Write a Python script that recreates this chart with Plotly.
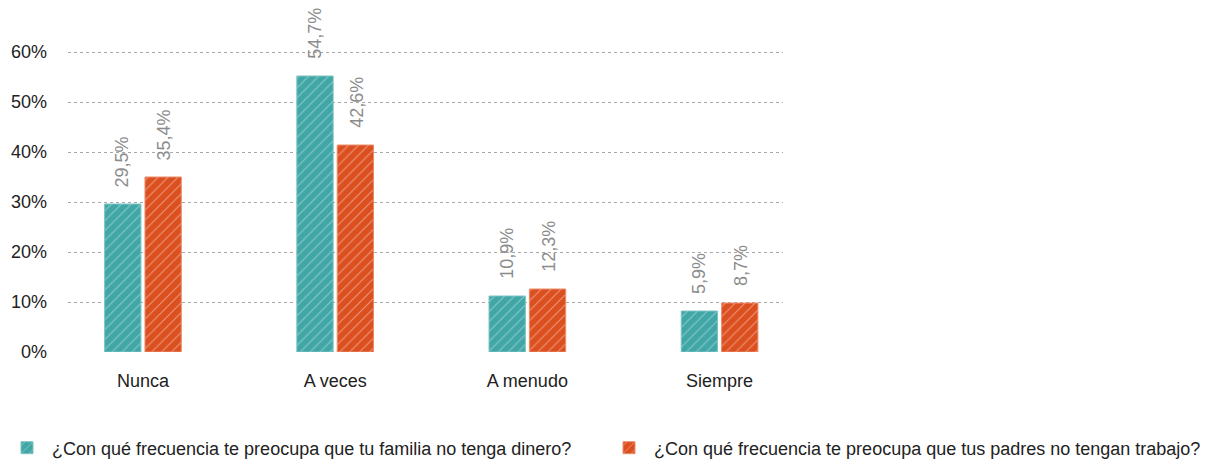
import plotly.graph_objects as go

categories = ["Nunca", "A veces", "A menudo", "Siempre"]

# bar heights as drawn, and the labels printed above them
dinero_height = [29.6, 55.2, 11.2, 8.2]
trabajo_height = [35.0, 41.4, 12.6, 9.8]
dinero_label = ["29,5%", "54,7%", "10,9%", "5,9%"]
trabajo_label = ["35,4%", "42,6%", "12,3%", "8,7%"]

series_names = [
    "¿Con qué frecuencia te preocupa que tu familia no tenga dinero?",
    "¿Con qué frecuencia te preocupa que tus padres no tengan trabajo?",
]
y_ticks = [0, 10, 20, 30, 40, 50, 60]
y_tick_text = ["0%", "10%", "20%", "30%", "40%", "50%", "60%"]

TEAL = "#40a6a6"
ORANGE = "#dc5020"
FONT = "Liberation Sans, Arial, sans-serif"
W, H = 1209, 463

fig = go.Figure()
for name, vals, col, edge, leg in [
    (series_names[0], dinero_height, TEAL, "#7cc4c4", "legend"),
    (series_names[1], trabajo_height, ORANGE, "#eb8d6c", "legend2"),
]:
    fig.add_trace(go.Bar(
        x=categories, y=vals, name=name, legend=leg, showlegend=True,
        marker=dict(color=col, line=dict(color=edge, width=1),
                    pattern=dict(shape="/", fgcolor="white", fgopacity=0.4,
                                 size=7, solidity=0.15)),
    ))

# rotated value labels above each bar
annos = []
for labels, heights, shift in [(dinero_label, dinero_height, -21),
                               (trabajo_label, trabajo_height, 21)]:
    for c, h, t in zip(categories, heights, labels):
        annos.append(dict(x=c, y=h, text=t, showarrow=False, textangle=-90,
                          xshift=shift, yshift=15, yanchor="bottom",
                          font=dict(size=18, color="#8c8c8c", family=FONT)))

leg_style = dict(orientation="h", xref="container", yref="container",
                 y=15 / H, yanchor="middle", xanchor="left", itemwidth=40,
                 font=dict(size=18, color="#222222"))

fig.update_layout(
    width=W, height=H, showlegend=True,
    margin=dict(l=68, r=426, t=10, b=111, autoexpand=False),
    paper_bgcolor="white", plot_bgcolor="white",
    font=dict(family=FONT, size=18, color="#222222"),
    barmode="group", bargap=0.58, bargroupgap=0.1,
    annotations=annos,
    legend=dict(x=2 / W, **leg_style),
    legend2=dict(x=604 / W, **leg_style),
)
fig.update_xaxes(range=[-0.39, 3.33], showgrid=False, showline=False,
                 ticks="", ticklabelstandoff=16)
fig.update_yaxes(range=[0, 68.4], tickvals=y_ticks, ticktext=y_tick_text,
                 showgrid=True, gridcolor="#a8a8a8", griddash="dot",
                 gridwidth=1, zeroline=False, showline=False,
                 ticklabelstandoff=20)

fig.write_html("out.html", config={"displayModeBar": False},
               post_script="document.body.style.margin='0';")
